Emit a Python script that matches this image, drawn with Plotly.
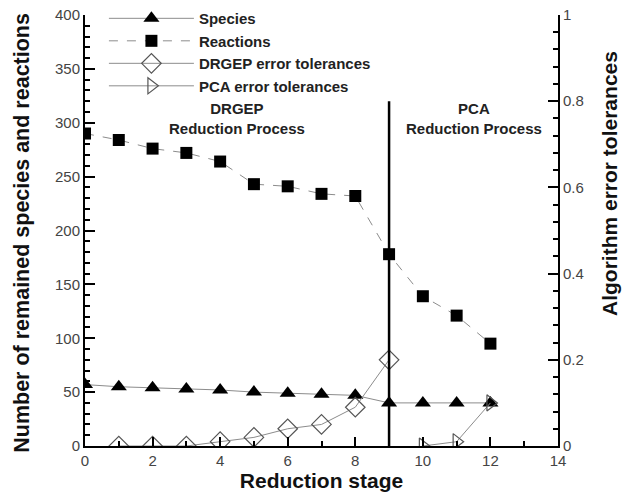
import plotly.graph_objects as go

stages = list(range(0, 13))
species = [57, 55, 54, 53, 52, 50, 49, 48, 47, 40, 40, 40, 40]
reactions = [290, 284, 276, 272, 264, 243, 241, 234, 232, 178, 139, 121, 95]
drgep_x = [1, 2, 3, 4, 5, 6, 7, 8, 9]
drgep_tol = [0.0, 0.0, 0.0, 0.01, 0.02, 0.04, 0.05, 0.09, 0.2]
pca_x = [10, 11, 12]
pca_tol = [0.0, 0.01, 0.1]
divider_x = 9
divider_top = 320

FONT = "Liberation Sans, Arial, sans-serif"
fig = go.Figure()

fig.add_trace(go.Scatter(
    x=stages, y=species, name="Species", mode="lines+markers",
    line=dict(color="#8c8c8c", width=1),
    marker=dict(symbol="triangle-up", size=14, color="black")))
fig.add_trace(go.Scatter(
    x=stages, y=reactions, name="Reactions", mode="lines+markers",
    line=dict(color="#8c8c8c", width=1, dash="dash"),
    marker=dict(symbol="square", size=12, color="black")))
fig.add_trace(go.Scatter(
    x=drgep_x, y=drgep_tol, name="DRGEP error tolerances", mode="lines+markers",
    yaxis="y2",
    line=dict(color="#8c8c8c", width=1),
    marker=dict(symbol="diamond-open", size=15, color="#555555", line=dict(width=1.2))))
fig.add_trace(go.Scatter(
    x=pca_x, y=pca_tol, name="PCA error tolerances", mode="lines+markers",
    yaxis="y2",
    line=dict(color="#8c8c8c", width=1),
    marker=dict(symbol="triangle-right-open", size=14, color="#555555", line=dict(width=1.2))))

fig.add_shape(type="line", x0=divider_x, x1=divider_x, y0=0, y1=divider_top,
              xref="x", yref="y", line=dict(color="black", width=2.5))

annfont = dict(family=FONT, size=15, color="#222", weight=700)
fig.add_annotation(x=4.5, y=304, xref="x", yref="y", showarrow=False,
                   text="DRGEP<br>Reduction Process", font=annfont)
fig.add_annotation(x=11.5, y=304, xref="x", yref="y", showarrow=False,
                   text="PCA<br>Reduction Process", font=annfont)

tickfont = dict(family=FONT, size=15, color="#444")
titlefont = dict(family=FONT, size=21, color="#111", weight=700)

fig.add_annotation(x=-0.133, y=0.495, xref="paper", yref="paper", showarrow=False,
                   text="Number of remained species and reactions", textangle=-90,
                   xanchor="center", yanchor="middle",
                   font=dict(family=FONT, size=21.5, color="#111", weight=700))
fig.add_annotation(x=1.11, y=0.608, xref="paper", yref="paper", showarrow=False,
                   text="Algorithm error tolerances", textangle=-90,
                   xanchor="center", yanchor="middle",
                   font=dict(family=FONT, size=21, color="#111", weight=700))

fig.update_layout(
    width=624, height=501,
    margin=dict(l=85, r=66, t=15, b=55, autoexpand=False),
    plot_bgcolor="rgba(0,0,0,0)", paper_bgcolor="white",
    font=dict(family=FONT),
    xaxis=dict(range=[0, 14], dtick=2, showline=True, linecolor="black", linewidth=2,
               ticks="inside", ticklen=9, tickwidth=2, tickcolor="#000000",
               minor=dict(dtick=1, ticks="inside", ticklen=5),
               showgrid=False, zeroline=False, tickfont=tickfont, automargin=False,
               title=dict(text="Reduction stage", font=titlefont, standoff=4)),
    yaxis=dict(range=[0, 400], dtick=50, showline=True, linecolor="black", linewidth=2,
               ticks="inside", ticklen=10, tickwidth=2, tickcolor="#000000",
               minor=dict(dtick=10, ticks="inside", ticklen=5),
               showgrid=False, zeroline=False, tickfont=tickfont, automargin=False),
    yaxis2=dict(range=[0, 1], dtick=0.2, overlaying="y", side="right", anchor="x",
                showline=True, linecolor="black", linewidth=2,
                ticks="inside", ticklen=10, tickwidth=2, tickcolor="#000000",
                minor=dict(dtick=0.04, ticks="inside", ticklen=5),
                showgrid=False, zeroline=False, tickfont=tickfont, automargin=False),
    legend=dict(x=0.04, y=1.03, xanchor="left", yanchor="top",
                bgcolor="rgba(0,0,0,0)",
                font=dict(family=FONT, size=15, color="#222", weight=700),
                itemwidth=85, tracegroupgap=0),
    showlegend=True,
)

fig.write_html("out.html")
